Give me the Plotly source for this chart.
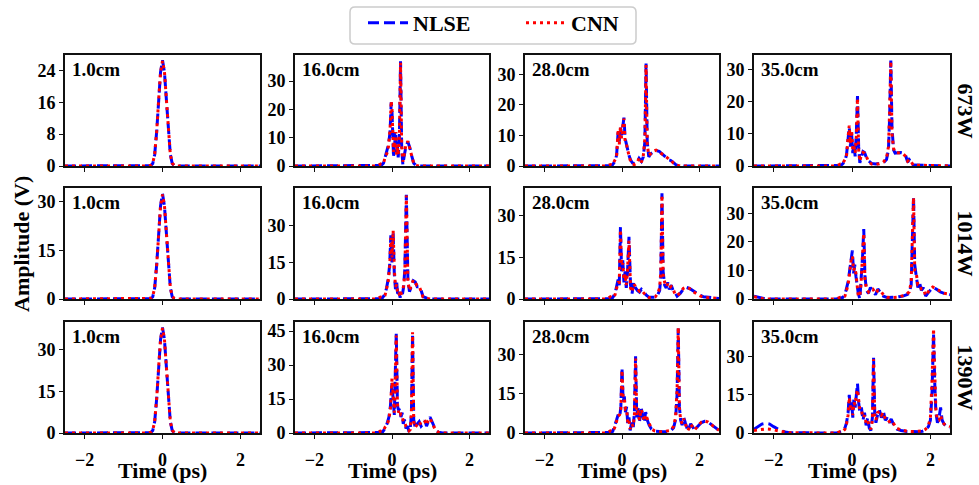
import plotly.graph_objects as go

# ---------------- data ----------------
POWERS = ["673W", "1014W", "1390W"]
DISTANCES = ["1.0cm", "16.0cm", "28.0cm", "35.0cm"]

# 673 W
T_673_1 = [-2.5, -0.35, -0.3, -0.25, -0.2, -0.15, -0.1, -0.05, 0.0, 0.05, 0.1, 0.15, 0.2, 0.25, 0.3, 0.35, 2.5]
NLSE_673_1 = [0, 0, 0.1, 0.6, 2.9, 8.6, 16.6, 23.6, 26.6, 23.6, 16.6, 8.6, 2.9, 0.6, 0.1, 0, 0]
CNN_673_1 = [0, 0, 0.2, 0.7, 3.0, 8.5, 16.5, 23.5, 26.4, 23.7, 16.7, 8.7, 3.0, 0.7, 0.2, 0, 0]

T_673_16 = [-2.5, -0.38, -0.28, -0.22, -0.18, -0.13, -0.09,
            -0.05, -0.02, 0.0, 0.02, 0.04, 0.06, 0.08,
            0.1, 0.12, 0.14, 0.16, 0.19, 0.22, 0.25,
            0.28, 0.32, 0.36, 0.41, 0.46, 0.51, 0.56,
            0.62, 0.7, 2.5]
NLSE_673_16 = [0, 0, 0.2, 1.0, 3.5, 5.5, 7.5,
               12, 22.5, 19, 11, 3, 12, 7,
               11, 5, 7, 3, 9, 37, 6,
               0.5, 4, 7, 8.5, 6.5, 3.5, 1,
               0.2, 0, 0]
CNN_673_16 = [0, 0, 0.8, 0.8, 3.0, 4.5, 7,
              13, 23, 20, 12, 5, 10, 6,
              12, 4, 7, 4, 10, 36.5, 7,
              1.5, 4.5, 7.5, 8.8, 6, 3, 0.8,
              0.2, 0, 0]

T_673_28 = [-2.5, -0.4, -0.3, -0.25, -0.18, -0.14, -0.1,
            -0.07, -0.04, -0.01, 0.02, 0.05, 0.08, 0.11,
            0.14, 0.18, 0.22, 0.27, 0.32, 0.38, 0.44,
            0.5, 0.55, 0.59, 0.62, 0.65, 0.69, 0.74,
            0.8, 0.88, 0.96, 1.04, 1.12, 1.2, 1.26,
            1.32, 1.4, 1.5, 2.5]
NLSE_673_28 = [0, 0, 0.1, 0.3, 1.5, 3.5, 11,
               8, 12.5, 10, 14, 15.8, 9, 7,
               6, 3.5, 2, 1, 0.8, 1, 2.5,
               1.5, 3, 8, 33.5, 8, 3, 4,
               4.5, 5, 4.8, 4, 3, 2, 1.8,
               1.2, 0.3, 0, 0]
CNN_673_28 = [0, 0, 0.5, 0.3, 2, 3, 12,
              7, 13, 9, 13, 15.5, 8, 7.5,
              5.5, 3, 1.5, 0.5, 0.5, 0.8, 2.5,
              1.2, 3.5, 9, 33, 7, 3.5, 4,
              4.8, 5.2, 4.5, 4, 3.2, 2.3, 2,
              1, 0.3, 0, 0]

T_673_35 = [-2.5, -0.4, -0.3, -0.25, -0.18, -0.14, -0.1,
            -0.07, -0.04, -0.01, 0.02, 0.05, 0.08, 0.11,
            0.14, 0.17, 0.2, 0.24, 0.28, 0.32, 0.37,
            0.43, 0.5, 0.6, 0.7, 0.8, 0.88, 0.93,
            0.96, 0.99, 1.02, 1.06, 1.1, 1.16, 1.23,
            1.3, 1.37, 1.42, 1.46, 1.5, 1.56, 2.5]
NLSE_673_35 = [0, 0, 0.2, 0.5, 1.5, 3.5, 8,
               12, 6, 10, 4, 7, 3, 10,
               21.7, 6, 1, 3, 4.5, 4.2, 2.5,
               1.5, 0.8, 0.6, 0.7, 1.0, 2, 5,
               15, 32.7, 12, 5, 4, 4.2, 4.2,
               4, 3.2, 1.2, 2, 1.5, 0.3, 0]
CNN_673_35 = [0, 0, 0.6, 0.5, 2, 3, 9,
              12.5, 7, 11, 5, 6, 4, 9,
              21, 5, 1.5, 3.5, 4.2, 4, 2.8,
              1.2, 0.6, 0.5, 0.7, 1.2, 2.5, 6,
              17, 32.5, 10, 5.5, 4.2, 4.2, 4,
              3.8, 3, 1.5, 2, 1.5, 0.3, 0]

# 1014 W
T_1014_1 = [-2.5, -0.35, -0.3, -0.25, -0.2, -0.15, -0.1, -0.05, 0.0, 0.05, 0.1, 0.15, 0.2, 0.25, 0.3, 0.35, 2.5]
NLSE_1014_1 = [0, 0, 0.1, 0.7, 3.5, 10.5, 20.3, 28.8, 32.5, 28.8, 20.3, 10.5, 3.5, 0.7, 0.1, 0, 0]
CNN_1014_1 = [0, 0, 0.2, 0.8, 3.6, 10.4, 20.2, 28.7, 32.3, 28.9, 20.4, 10.6, 3.6, 0.8, 0.2, 0, 0]

T_1014_16 = [-2.5, -0.4, -0.3, -0.25, -0.18, -0.14, -0.1,
             -0.06, -0.03, 0.0, 0.03, 0.06, 0.09, 0.12,
             0.15, 0.18, 0.21, 0.24, 0.27, 0.3, 0.33,
             0.37, 0.41, 0.45, 0.5, 0.55, 0.6, 0.65,
             0.7, 0.75, 0.8, 0.86, 0.92, 1.0, 2.5]
NLSE_1014_16 = [0, 0, 0.1, 0.4, 2, 4.5, 8,
                14, 26, 15, 27, 10, 4, 7,
                1, 3, 0.5, 3, 2, 5, 12,
                42.6, 8, 3, 5, 7.5, 7, 5,
                5, 3.5, 1, 0.5, 0.2, 0, 0]
CNN_1014_16 = [0, 0, 0.8, 0.6, 1.5, 4, 7,
               13, 25, 17, 28, 12, 5, 6,
               2, 2.5, 0.8, 2.5, 3, 5.5, 10,
               42.3, 7, 3.5, 5.5, 7.8, 6.5, 5.5,
               5.3, 3, 0.8, 0.3, 0.1, 0, 0]

T_1014_28 = [-2.5, -0.4, -0.3, -0.24, -0.18, -0.14, -0.1,
             -0.07, -0.04, -0.01, 0.02, 0.05, 0.08, 0.11,
             0.14, 0.18, 0.22, 0.26, 0.3, 0.35, 0.4,
             0.45, 0.5, 0.55, 0.62, 0.7, 0.78, 0.86,
             0.92, 0.97, 1.0, 1.03, 1.06, 1.1, 1.14,
             1.18, 1.22, 1.27, 1.32, 1.36, 1.42, 1.5,
             1.58, 1.66, 1.74, 1.82, 1.9, 2.0, 2.1,
             2.5]
NLSE_1014_28 = [0, 0, 0.1, 0.5, 2, 4.5, 7,
                5, 26, 10, 14, 6, 10, 4,
                9, 22.5, 5, 2, 6, 4, 3,
                2.5, 3.5, 2.8, 1.5, 0.6, 0.5, 0.6,
                1.5, 3, 8, 38.2, 10, 5, 4,
                6, 3.5, 5, 3, 2.5, 1, 2,
                3.5, 4.2, 3.8, 3, 2.2, 1.5, 0.8,
                0.2]
CNN_1014_28 = [0, 0, 0.8, 0.4, 1.5, 4, 6,
               6, 25, 12, 13, 7, 9, 5,
               10, 21, 4, 2.5, 5.5, 4.5, 3.5,
               2.8, 3.2, 2.5, 1.2, 0.5, 0.4, 0.8,
               2, 4, 10, 37.5, 9, 6, 4.5,
               5.5, 4, 4.5, 3.5, 2, 1.2, 2.2,
               3.8, 4.3, 3.8, 2.8, 2, 1.2, 0.6,
               0.2]

T_1014_35 = [-2.5, -2.4, -2.3, -2.2, -0.4, -0.3, -0.24,
             -0.18, -0.14, -0.1, -0.06, -0.02, 0.01, 0.04,
             0.07, 0.1, 0.13, 0.16, 0.2, 0.23, 0.27,
             0.3, 0.33, 0.37, 0.42, 0.47, 0.53, 0.6,
             0.66, 0.72, 0.8, 0.9, 1.0, 1.1, 1.2,
             1.3, 1.4, 1.46, 1.51, 1.54, 1.57, 1.6,
             1.64, 1.68, 1.72, 1.77, 1.82, 1.88, 1.96,
             2.06, 2.15, 2.25, 2.35, 2.45, 2.5]
NLSE_1014_35 = [1.0, 0.6, 0.2, 0, 0, 0.2, 0.5,
                1.5, 4, 6, 10, 15, 17, 9,
                12, 8, 4, 2, 0, 6, 15,
                24.5, 8, 3, 2, 4, 3, 1.5,
                3.5, 2.5, 1, 0.5, 0.5, 0.6, 0.8,
                1.0, 1.5, 2, 5, 20, 35.9, 12,
                8, 4, 6, 3, 4, 1, 2.5,
                4, 3.5, 2.5, 2, 1.8, 1.5]
CNN_1014_35 = [0.8, 0.4, 0.2, 0, 0, 0.6, 0.5,
               1, 3, 5, 9, 14, 15, 10,
               11, 9, 5, 1, 1, 5, 16,
               23, 7, 3.5, 2.5, 3.5, 3.5, 2,
               3, 3, 1.5, 0.6, 0.5, 0.5, 0.7,
               1.2, 1.8, 2.5, 6, 22, 35.5, 10,
               9, 5, 5, 3.5, 3.5, 1.2, 2.8,
               4.2, 3.5, 2.5, 2, 1.8, 1.5]

# 1390 W
T_1390_1 = [-2.5, -0.35, -0.3, -0.25, -0.2, -0.15, -0.1, -0.05, 0.0, 0.05, 0.1, 0.15, 0.2, 0.25, 0.3, 0.35, 2.5]
NLSE_1390_1 = [0, 0, 0.1, 0.9, 4.1, 12.3, 23.7, 33.7, 38.0, 33.7, 23.7, 12.3, 4.1, 0.9, 0.1, 0, 0]
CNN_1390_1 = [0, 0, 0.3, 1.0, 4.2, 12.2, 23.6, 33.6, 37.8, 33.8, 23.8, 12.4, 4.2, 1.0, 0.2, 0, 0]

T_1390_16 = [-2.5, -0.4, -0.3, -0.24, -0.18, -0.13, -0.08,
             -0.04, 0.0, 0.03, 0.06, 0.09, 0.11, 0.14,
             0.17, 0.2, 0.23, 0.26, 0.29, 0.32, 0.36,
             0.4, 0.44, 0.47, 0.5, 0.53, 0.56, 0.6,
             0.65, 0.7, 0.75, 0.8, 0.85, 0.89, 0.93,
             0.98, 1.02, 1.07, 1.12, 1.2, 1.3, 2.5]
NLSE_1390_16 = [0, 0, 0.2, 0.5, 2, 4, 7,
                12, 22, 15, 8, 30, 44, 12,
                10, 11, 7, 9, 4, 6, 2,
                3, 0.5, 2, 8, 44, 6, 2,
                4, 5, 3, 4, 5.5, 3, 5,
                7, 5.5, 3.5, 1.5, 0.3, 0, 0]
CNN_1390_16 = [0, 0, 0.8, 0.6, 2.5, 3.5, 6,
               11, 24, 17, 9, 28, 43, 13,
               9, 10, 8, 8, 5, 5, 3,
               2.5, 1, 1.5, 9, 44.5, 5, 2.5,
               3.5, 5, 3.5, 4.5, 5, 3.5, 5.5,
               6.5, 5, 3, 1.2, 0.3, 0, 0]

T_1390_28 = [-2.5, -0.4, -0.3, -0.24, -0.19, -0.14, -0.1,
             -0.06, -0.03, 0.0, 0.03, 0.06, 0.09, 0.12,
             0.15, 0.18, 0.21, 0.25, 0.29, 0.32, 0.35,
             0.38, 0.41, 0.45, 0.49, 0.53, 0.57, 0.61,
             0.65, 0.7, 0.76, 0.84, 0.94, 1.05, 1.15,
             1.25, 1.33, 1.38, 1.42, 1.45, 1.48, 1.51,
             1.55, 1.59, 1.63, 1.7, 1.77, 1.83, 1.88,
             1.95, 2.05, 2.13, 2.22, 2.32, 2.42, 2.5]
NLSE_1390_28 = [0, 0, 0.2, 0.6, 2.5, 5, 7,
                6, 10, 25, 12, 14, 8, 10,
                3, 6, 1, 4, 2, 8, 29.4,
                6, 10, 4, 10, 7, 4, 8,
                5, 3, 1.5, 0.7, 0.5, 0.5, 0.6,
                0.8, 2, 5, 15, 40, 10, 5,
                3, 6, 4, 0.8, 3.5, 2, 1,
                2.5, 4, 4.5, 4.2, 3, 1.8, 1]
CNN_1390_28 = [0, 0, 0.8, 0.5, 2, 4.5, 6.5,
               7, 9, 24, 13, 13, 9, 9,
               4, 5, 1.5, 3.5, 2.5, 7, 28.5,
               7, 9, 5, 9, 7.5, 4.5, 7,
               5.5, 3.5, 1.5, 0.8, 0.5, 0.5, 0.7,
               1, 2.5, 6, 17, 40.5, 9, 5.5,
               3.5, 5.5, 3.5, 1, 3.3, 2, 1.2,
               2.8, 4.2, 4.6, 4.2, 3, 2, 1]

T_1390_35 = [-2.5, -2.4, -2.3, -2.2, -2.1, -2.0, -1.9, -1.8, -1.7, -1.6,
             -0.4, -0.3, -0.24, -0.18, -0.14, -0.1, -0.07, -0.04, -0.01,
             0.02, 0.05, 0.08, 0.11, 0.14, 0.17, 0.2,
             0.24, 0.28, 0.32, 0.36, 0.4, 0.44, 0.48,
             0.52, 0.55, 0.58, 0.61, 0.65, 0.7, 0.75,
             0.8, 0.85, 0.9, 0.95, 1.0, 1.07, 1.15,
             1.25, 1.4, 1.55, 1.7, 1.8, 1.88, 1.95,
             2.0, 2.04, 2.08, 2.11, 2.14, 2.18, 2.22,
             2.26, 2.3, 2.35, 2.42, 2.5]
NLSE_1390_35 = [1.5, 2.5, 3.5, 3.8, 3.5, 2.5, 1.5, 0.8, 0.4, 0.1,
                0, 0.2, 0.5, 2, 4, 8, 15, 9, 12,
                6, 14, 10, 16, 19.5, 12, 8,
                10, 5, 8, 3, 6, 2, 1,
                6, 29.5, 8, 4, 7, 9, 6,
                8.5, 5, 6, 4, 5.5, 3, 1.5,
                1, 0.6, 0.5, 0.5, 0.7, 1.2, 2.5,
                5, 15, 39, 20, 8, 4, 6,
                10, 5, 3.5, 2.5, 2]
CNN_1390_35 = [1.0, 1.2, 1.5, 1.6, 1.5, 1.2, 0.8, 0.5, 0.3, 0.1,
               0, 0.6, 0.5, 1.5, 3.5, 7, 14, 10, 11,
               7, 12, 11, 15, 17, 13, 9,
               9, 6, 7, 4, 5, 2.5, 1.5,
               5, 29, 7, 5, 8, 8.5, 7,
               8, 5.5, 5.5, 4.5, 5, 3.5, 1.8,
               1.2, 0.7, 0.6, 0.6, 0.8, 1.5, 3,
               6, 20, 41, 25, 9, 5, 5,
               7, 4.5, 3.5, 3, 2.5]

PANELS = [
    [(T_673_1, NLSE_673_1, CNN_673_1), (T_673_16, NLSE_673_16, CNN_673_16),
     (T_673_28, NLSE_673_28, CNN_673_28), (T_673_35, NLSE_673_35, CNN_673_35)],
    [(T_1014_1, NLSE_1014_1, CNN_1014_1), (T_1014_16, NLSE_1014_16, CNN_1014_16),
     (T_1014_28, NLSE_1014_28, CNN_1014_28), (T_1014_35, NLSE_1014_35, CNN_1014_35)],
    [(T_1390_1, NLSE_1390_1, CNN_1390_1), (T_1390_16, NLSE_1390_16, CNN_1390_16),
     (T_1390_28, NLSE_1390_28, CNN_1390_28), (T_1390_35, NLSE_1390_35, CNN_1390_35)],
]

Y_MAX = [[27.9, 39.2, 36.3, 34.4],
         [34.3, 45.4, 40.1, 38.9],
         [40.0, 49.0, 42.5, 43.6]]
Y_TICKS = [[[0, 8, 16, 24], [0, 10, 20, 30], [0, 10, 20, 30], [0, 10, 20, 30]],
           [[0, 15, 30], [0, 15, 30], [0, 15, 30], [0, 10, 20, 30]],
           [[0, 15, 30], [0, 15, 30, 45], [0, 15, 30], [0, 15, 30]]]
X_TICKS = [-2, 0, 2]

# ---------------- layout ----------------
W, H = 979, 485
COLS_PX = [(65, 260), (295, 489), (525, 719), (754, 950)]
ROWS_PX = [(55, 166), (188, 299), (322, 433)]
FONT = "Liberation Serif"

fig = go.Figure()
layout = dict(
    width=W, height=H, margin=dict(l=0, r=0, t=0, b=0, autoexpand=False),
    paper_bgcolor="white", plot_bgcolor="white",
    font=dict(family=FONT, size=18, color="black", weight="bold"),
    showlegend=True,
)
annotations = []

for r in range(3):
    for c in range(4):
        k = r * 4 + c + 1
        xn = "x" if k == 1 else f"x{k}"
        yn = "y" if k == 1 else f"y{k}"
        t, nl, cn = PANELS[r][c]
        fig.add_trace(go.Scatter(x=t, y=nl, mode="lines", name="NLSE", xaxis=xn, yaxis=yn,
                                 line=dict(color="#0000ff", width=3, dash="11px,5px"),
                                 showlegend=(k == 1), legendgroup="nlse"))
        fig.add_trace(go.Scatter(x=t, y=cn, mode="lines", name="CNN", xaxis=xn, yaxis=yn,
                                 line=dict(color="#ff0000", width=3, dash="3px,4px"),
                                 showlegend=(k == 1), legendgroup="cnn"))
        L, R = COLS_PX[c]
        T, B = ROWS_PX[r]
        common = dict(showline=True, mirror=True, linecolor="#111", linewidth=1.6,
                      ticks="outside", ticklen=4, tickwidth=1.4, tickcolor="#111",
                      showgrid=False, zeroline=False,
                      tickfont=dict(family=FONT, size=18, color="black", weight="bold"))
        layout["xaxis" if k == 1 else f"xaxis{k}"] = dict(
            domain=[L / W, R / W], anchor=yn, range=[-2.5, 2.5],
            tickvals=X_TICKS, showticklabels=(r == 2), ticklabelstandoff=6, **common)
        layout["yaxis" if k == 1 else f"yaxis{k}"] = dict(
            domain=[1 - B / H, 1 - T / H], anchor=xn, range=[0, Y_MAX[r][c]],
            tickvals=Y_TICKS[r][c], **common)
        annotations.append(dict(
            text=DISTANCES[c], xref=f"{xn} domain", yref=f"{yn} domain",
            x=0.025, y=0.985, xanchor="left", yanchor="top", showarrow=False,
            font=dict(family=FONT, size=19, color="black", weight="bold")))

for r in range(3):
    T, B = ROWS_PX[r]
    annotations.append(dict(
        text=POWERS[r], xref="paper", yref="paper", x=965 / W, y=1 - (T + B) / 2 / H,
        xanchor="center", yanchor="middle", textangle=90, showarrow=False,
        font=dict(family=FONT, size=22, color="black", weight="bold")))

for c in range(4):
    L, R = COLS_PX[c]
    annotations.append(dict(
        text="Time (ps)", xref="paper", yref="paper", x=(L + R) / 2 / W, y=1 - 470 / H,
        xanchor="center", yanchor="middle", showarrow=False,
        font=dict(family=FONT, size=22, color="black", weight="bold")))

annotations.append(dict(
    text="Amplitude (V)", xref="paper", yref="paper", x=21 / W, y=1 - 244 / H,
    xanchor="center", yanchor="middle", textangle=-90, showarrow=False,
    font=dict(family=FONT, size=22, color="black", weight="bold")))

layout["annotations"] = annotations

# rounded legend frame
x0, x1, y0, y1, rr = 350, 636, 7, 44, 5
def px(x):
    return x / W
def py(y):
    return 1 - y / H
path = (f"M {px(x0 + rr)},{py(y0)} L {px(x1 - rr)},{py(y0)} Q {px(x1)},{py(y0)} {px(x1)},{py(y0 + rr)} "
        f"L {px(x1)},{py(y1 - rr)} Q {px(x1)},{py(y1)} {px(x1 - rr)},{py(y1)} "
        f"L {px(x0 + rr)},{py(y1)} Q {px(x0)},{py(y1)} {px(x0)},{py(y1 - rr)} "
        f"L {px(x0)},{py(y0 + rr)} Q {px(x0)},{py(y0)} {px(x0 + rr)},{py(y0)} Z")
layout["shapes"] = [dict(type="path", path=path, xref="paper", yref="paper",
                         line=dict(color="#cccccc", width=1.5), fillcolor="white", layer="below")]

layout["legend"] = dict(
    orientation="h", x=521 / W, xanchor="center", y=1 - 2 / H, yanchor="top",
    bgcolor="rgba(0,0,0,0)", borderwidth=0,
    font=dict(family=FONT, size=22, color="black", weight="bold"),
    itemwidth=40, entrywidth=103, tracegroupgap=0)

fig.update_layout(**layout)
fig.write_html("out.html", config={"displayModeBar": False},
               post_script="document.body.style.margin='0';document.body.style.padding='0';")
